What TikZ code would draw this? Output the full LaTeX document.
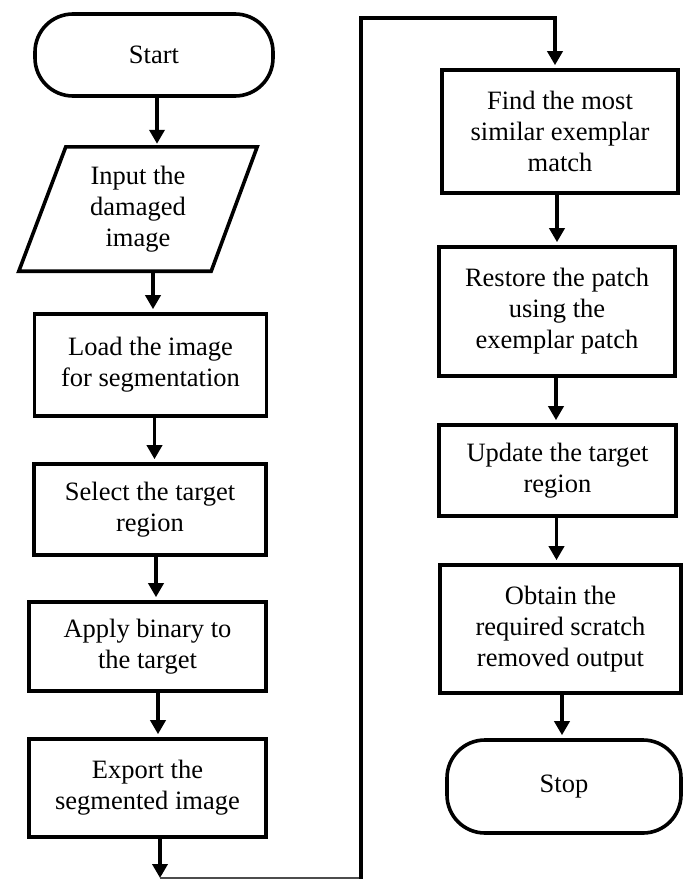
\documentclass[tikz,border=0pt]{standalone}
\usepackage{fontspec}
\setmainfont{Liberation Serif}
\usetikzlibrary{arrows.meta}
\begin{document}
\begin{tikzpicture}[x=1pt,y=-1pt,
  every node/.style={font=\fontsize{26.5}{31}\selectfont, align=center, inner sep=0pt},
  procbox/.style={draw, line width=3.6pt, rectangle},
  term/.style={draw, line width=3.6pt, rectangle, rounded corners=38pt},
  flow/.style={line width=3.6pt},
  arr/.style={flow, -{Triangle[width=15pt,length=14pt]}, shorten >=3pt},
  link/.style={line width=1.1pt, draw=black!70}]
\useasboundingbox (0,0) rectangle (692,880);

% left column
\node[term, minimum width=238, minimum height=82] (start) at (154,55) {Start};
\node[minimum width=238, minimum height=124] (input) at (138,209) {Input the\\damaged\\image};
\draw[flow, line join=miter] ([xshift=47]input.north west) -- (input.north east)
  -- ([xshift=-46]input.south east) -- (input.south west) -- cycle;
\node[procbox, minimum width=232, minimum height=102] (load) at (150.5,365) {Load the image\\for segmentation};
\node[procbox, minimum width=232, minimum height=91] (select) at (150,509.5) {Select the target\\region};
\node[procbox, minimum width=237, minimum height=89] (apply) at (147.5,646.5) {Apply binary to\\the target};
\node[procbox, minimum width=237, minimum height=98] (export) at (147.5,788) {Export the\\segmented image};

% right column
\node[procbox, minimum width=236, minimum height=123] (find) at (560,131.5) {Find the most\\similar exemplar\\match};
\node[procbox, minimum width=236, minimum height=129] (restore) at (557,311.5) {Restore the patch\\using the\\exemplar patch};
\node[procbox, minimum width=237, minimum height=91] (update) at (557.5,470.5) {Update the target\\region};
\node[procbox, minimum width=241, minimum height=128] (obtain) at (560.5,629) {Obtain the\\required scratch\\removed output};
\node[term, minimum width=234, minimum height=93] (stop) at (564,786.5) {Stop};

% connector between the two columns
\coordinate (low) at (160,878);
\coordinate (lowR) at (361,878);
\coordinate (up) at (361,18);

% arrows of the left column
\draw[arr] ([xshift=3]start.south) -- ([xshift=3]start.south |- input.north);
\draw[arr] ([xshift=15]input.south) -- ([xshift=15]input.south |- load.north);
\draw[arr] ([xshift=4]load.south) -- ([xshift=4]load.south |- select.north);
\draw[arr] ([xshift=6]select.south) -- ([xshift=6]select.south |- apply.north);
\draw[arr] ([xshift=10.5]apply.south) -- ([xshift=10.5]apply.south |- export.north);
\draw[arr, shorten >=0pt] ([xshift=12.5]export.south) -- (low);

% link to the right column
\draw[link] (low) -- (lowR);
\draw[flow] ([yshift=-0.5pt]lowR) -- (up) -- ([xshift=-5]find.north |- up);
\draw[arr, line cap=rect] ([xshift=-5]find.north |- up) -- ([xshift=-5]find.north);

% arrows of the right column
\draw[arr] ([xshift=-3]find.south) -- ([xshift=-3]find.south |- restore.north);
\draw[arr] ([xshift=-1]restore.south) -- ([xshift=-1]restore.south |- update.north);
\draw[arr] ([xshift=-1]update.south) -- ([xshift=-1]update.south |- obtain.north);
\draw[arr] ([xshift=1.5]obtain.south) -- ([xshift=1.5]obtain.south |- stop.north);
\end{tikzpicture}
\end{document}
